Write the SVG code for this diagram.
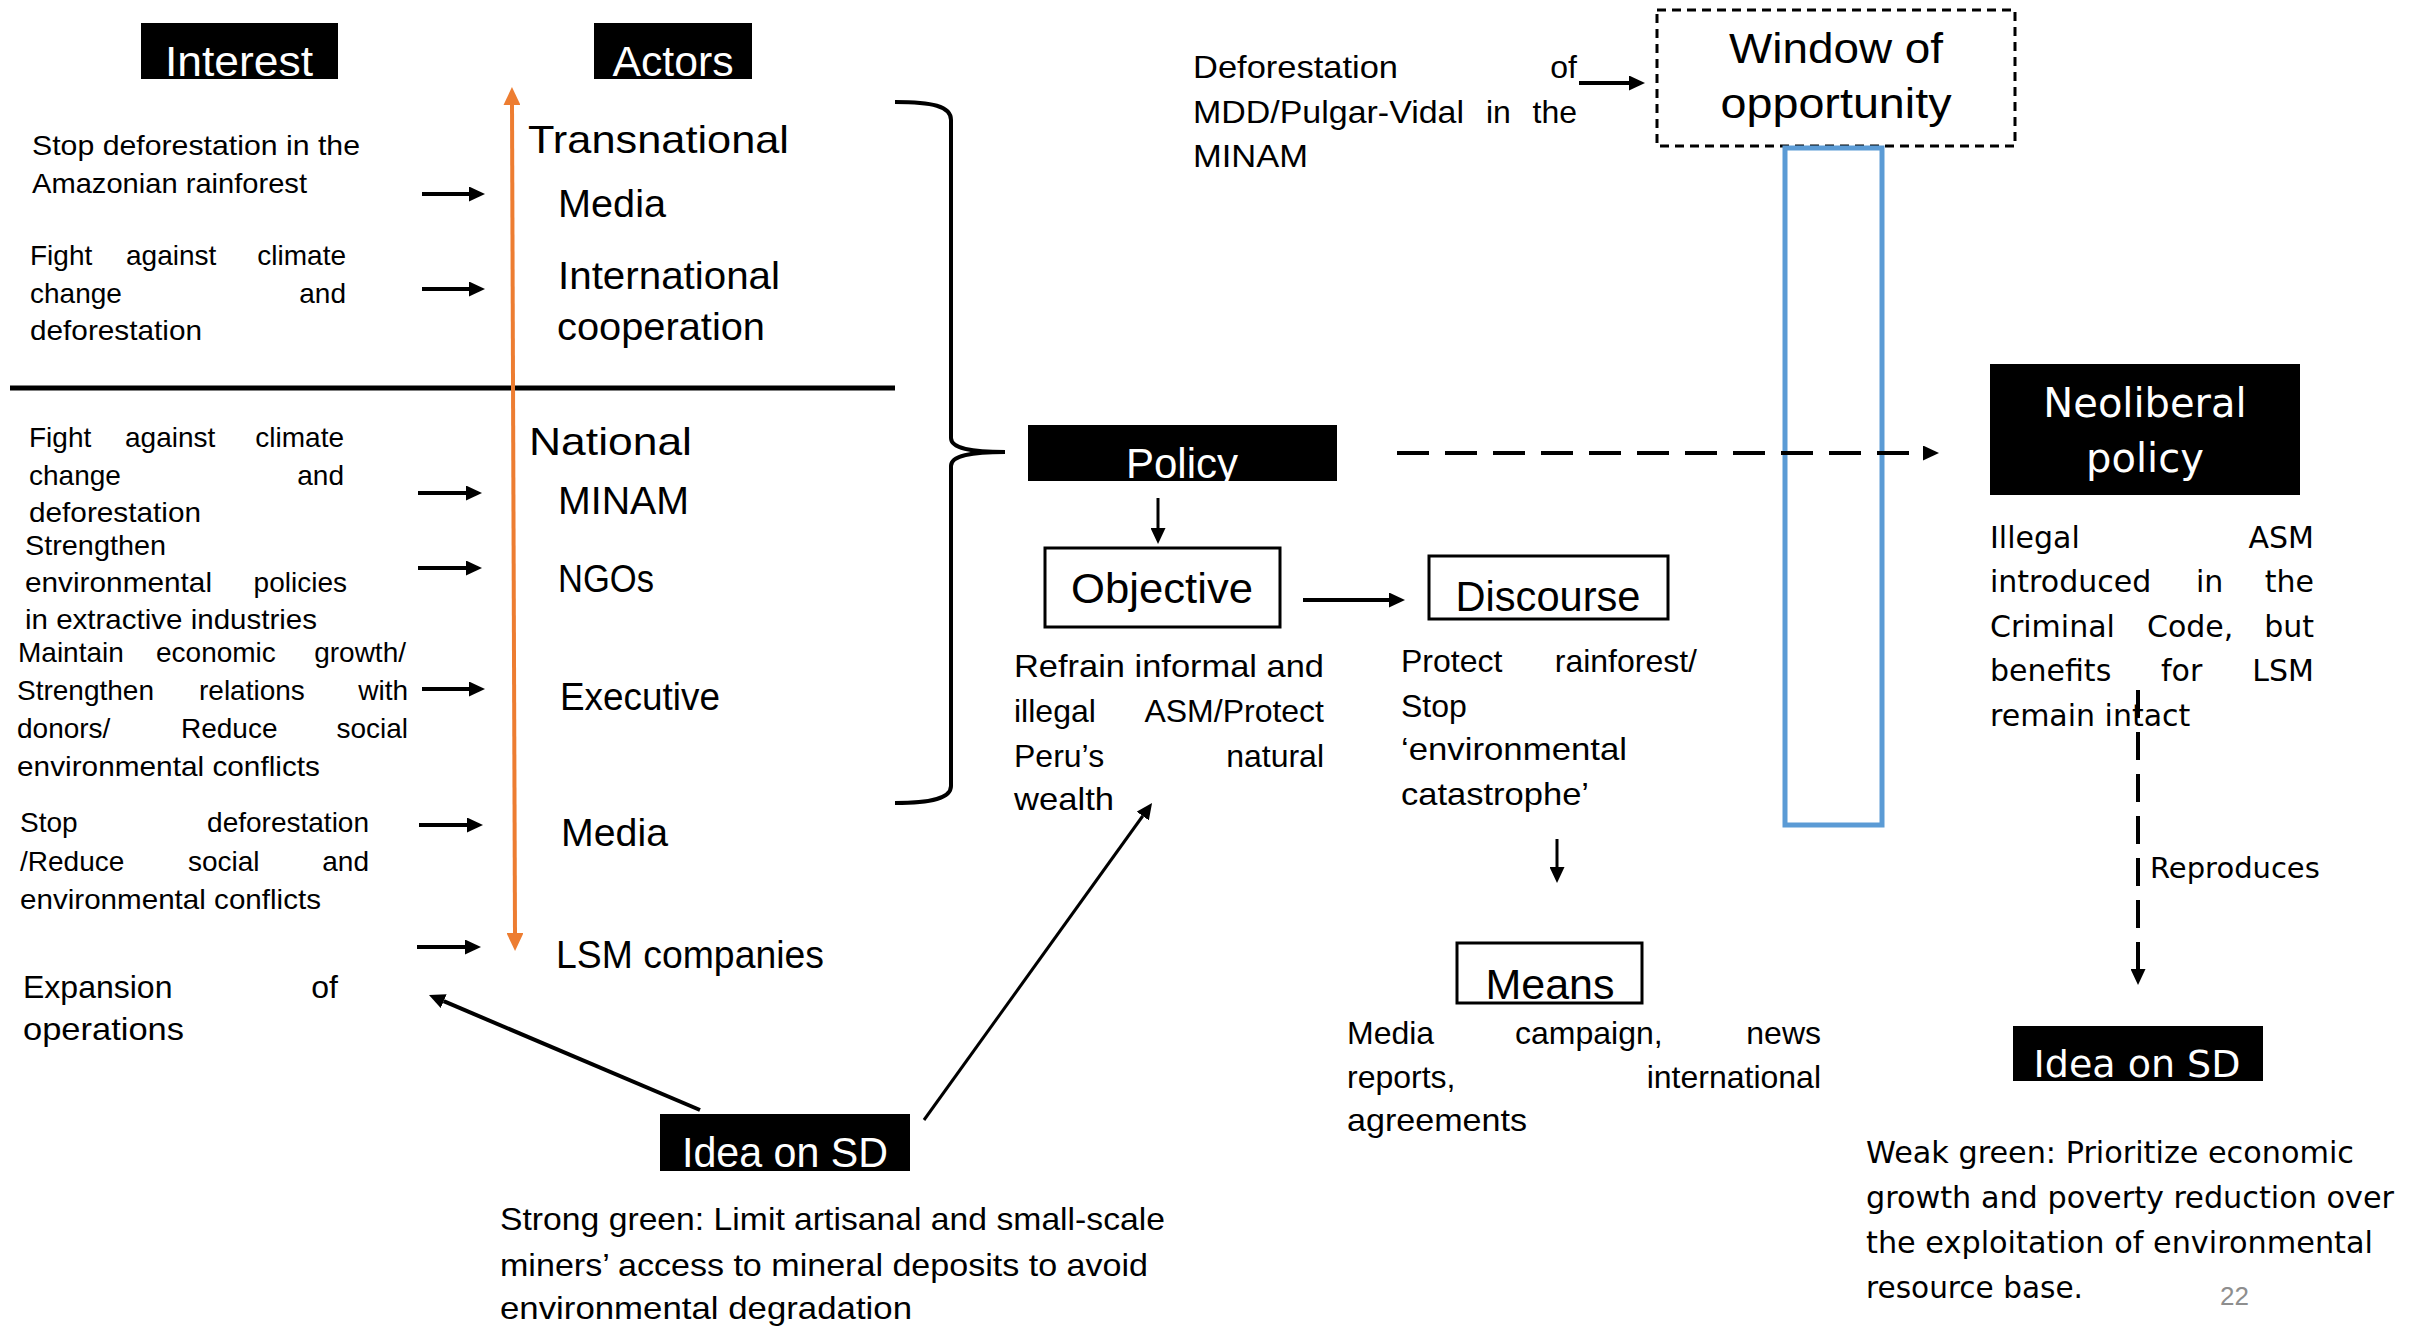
<svg xmlns="http://www.w3.org/2000/svg" width="2412" height="1327" viewBox="0 0 2412 1327">
<style>
text{font-family:"Liberation Sans",Arial,sans-serif;fill:#000}
.s{font-size:28px}
.m{font-size:32px}
.l{font-size:39px}
.h{font-size:42px;fill:#fff;text-anchor:middle}
.t{font-size:42px;text-anchor:middle}
.v{font-family:"DejaVu Sans",Verdana,sans-serif}
.e{text-anchor:end}
.blk{fill:#000}
.box{fill:#fff;stroke:#000;stroke-width:3}
.c{fill:none;stroke:#000;stroke-width:4}
.c3{fill:none;stroke:#000;stroke-width:3}
.dash{fill:none;stroke:#000;stroke-width:4;stroke-dasharray:32 16}
.vdash{fill:none;stroke:#000;stroke-width:4;stroke-dasharray:28 14}
</style>
<defs>
<marker id="a" viewBox="0 0 10 10" refX="0" refY="5" markerWidth="16" markerHeight="15" markerUnits="userSpaceOnUse" orient="auto" preserveAspectRatio="none"><path d="M0,0 L10,5 L0,10 z" fill="#000"/></marker>
<marker id="ao" viewBox="0 0 10 10" refX="0" refY="5" markerWidth="18" markerHeight="17" markerUnits="userSpaceOnUse" orient="auto-start-reverse" preserveAspectRatio="none"><path d="M0,0 L10,5 L0,10 z" fill="#ED7D31"/></marker>
</defs>

<rect width="2412" height="1327" fill="#fff"/>

<g id="interest-header"><rect class="blk" x="141" y="23" width="197" height="56"/><text class="h" x="239" y="76" textLength="148" lengthAdjust="spacingAndGlyphs">Interest</text></g>
<g id="actors-header"><rect class="blk" x="594" y="23" width="158" height="56"/><text class="h" x="673" y="76" textLength="121" lengthAdjust="spacingAndGlyphs">Actors</text></g>

<g id="divider"><line x1="10" y1="388" x2="895" y2="388" stroke="#000" stroke-width="5"/></g>

<g id="interests">
<text class="s" x="32" y="155" textLength="328" lengthAdjust="spacingAndGlyphs">Stop deforestation in the</text>
<text class="s" x="32" y="193" textLength="275" lengthAdjust="spacingAndGlyphs">Amazonian rainforest</text>
<text class="s" x="30" y="265">Fight</text><text class="s" x="126" y="265">against</text><text class="s e" x="346" y="265">climate</text>
<text class="s" x="30" y="303">change</text><text class="s e" x="346" y="303">and</text>
<text class="s" x="30" y="340" textLength="172" lengthAdjust="spacingAndGlyphs">deforestation</text>
<text class="s" x="29" y="447">Fight</text><text class="s" x="125" y="447">against</text><text class="s e" x="344" y="447">climate</text>
<text class="s" x="29" y="485">change</text><text class="s e" x="344" y="485">and</text>
<text class="s" x="29" y="522" textLength="172" lengthAdjust="spacingAndGlyphs">deforestation</text>
<text class="s" x="25" y="555" textLength="141" lengthAdjust="spacingAndGlyphs">Strengthen</text>
<text class="s" x="25" y="592" textLength="187" lengthAdjust="spacingAndGlyphs">environmental</text><text class="s e" x="347" y="592">policies</text>
<text class="s" x="25" y="629" textLength="292" lengthAdjust="spacingAndGlyphs">in extractive industries</text>
<text class="s" x="18" y="662">Maintain</text><text class="s" x="156" y="662">economic</text><text class="s e" x="406" y="662">growth/</text>
<text class="s" x="17" y="700">Strengthen</text><text class="s" x="199" y="700">relations</text><text class="s e" x="408" y="700">with</text>
<text class="s" x="17" y="738">donors/</text><text class="s" x="181" y="738">Reduce</text><text class="s e" x="408" y="738">social</text>
<text class="s" x="17" y="776" textLength="303" lengthAdjust="spacingAndGlyphs">environmental conflicts</text>
<text class="s" x="20" y="832">Stop</text><text class="s e" x="369" y="832">deforestation</text>
<text class="s" x="20" y="871">/Reduce</text><text class="s" x="188" y="871">social</text><text class="s e" x="369" y="871">and</text>
<text class="s" x="20" y="909" textLength="301" lengthAdjust="spacingAndGlyphs">environmental conflicts</text>
<text class="m" x="23" y="998">Expansion</text><text class="m e" x="338" y="998">of</text>
<text class="m" x="23" y="1040" textLength="161" lengthAdjust="spacingAndGlyphs">operations</text>
</g>

<g id="actors">
<text class="l" x="528" y="153" textLength="261" lengthAdjust="spacingAndGlyphs">Transnational</text>
<text class="l" x="558" y="217" textLength="108" lengthAdjust="spacingAndGlyphs">Media</text>
<text class="l" x="558" y="289" textLength="222" lengthAdjust="spacingAndGlyphs">International</text>
<text class="l" x="557" y="340" textLength="208" lengthAdjust="spacingAndGlyphs">cooperation</text>
<text class="l" x="529" y="455" textLength="163" lengthAdjust="spacingAndGlyphs">National</text>
<text class="l" x="558" y="514" textLength="131" lengthAdjust="spacingAndGlyphs">MINAM</text>
<text class="l" x="558" y="592" textLength="96" lengthAdjust="spacingAndGlyphs">NGOs</text>
<text class="l" x="560" y="710" textLength="160" lengthAdjust="spacingAndGlyphs">Executive</text>
<text class="l" x="561" y="846" textLength="107" lengthAdjust="spacingAndGlyphs">Media</text>
<text class="l" x="556" y="968" textLength="268" lengthAdjust="spacingAndGlyphs">LSM companies</text>
</g>

<g id="brace"><path class="c" d="M895,102 C932,102 951,106 951,120 L951,438 C951,448 970,452 1005,452 C970,452 951,456 951,466 L951,786 C951,798 932,803 895,803"/></g>

<g id="policy"><rect class="blk" x="1028" y="425" width="309" height="56"/><text class="h" x="1182" y="478" textLength="112" lengthAdjust="spacingAndGlyphs">Policy</text></g>

<g id="objective"><rect class="box" x="1045" y="548" width="235" height="79"/><text class="t" x="1162" y="603" textLength="182" lengthAdjust="spacingAndGlyphs">Objective</text>
<text class="m" x="1014" y="677" textLength="310" lengthAdjust="spacingAndGlyphs">Refrain informal and</text>
<text class="m" x="1014" y="722">illegal</text><text class="m e" x="1324" y="722">ASM/Protect</text>
<text class="m" x="1014" y="767">Peru’s</text><text class="m e" x="1324" y="767">natural</text>
<text class="m" x="1014" y="810" textLength="100" lengthAdjust="spacingAndGlyphs">wealth</text></g>

<g id="discourse"><rect class="box" x="1429" y="556" width="239" height="63"/><text class="t" x="1548" y="611" textLength="185" lengthAdjust="spacingAndGlyphs">Discourse</text>
<text class="m" x="1401" y="672">Protect</text><text class="m e" x="1697" y="672">rainforest/</text>
<text class="m" x="1401" y="717">Stop</text>
<text class="m" x="1401" y="760" textLength="226" lengthAdjust="spacingAndGlyphs">‘environmental</text>
<text class="m" x="1401" y="805" textLength="188" lengthAdjust="spacingAndGlyphs">catastrophe’</text></g>

<g id="means"><rect class="box" x="1457" y="943" width="185" height="60"/><text class="t" x="1550" y="999" textLength="129" lengthAdjust="spacingAndGlyphs">Means</text>
<text class="m" x="1347" y="1044">Media</text><text class="m" x="1515" y="1044">campaign,</text><text class="m e" x="1821" y="1044">news</text>
<text class="m" x="1347" y="1088">reports,</text><text class="m e" x="1821" y="1088">international</text>
<text class="m" x="1347" y="1131" textLength="180" lengthAdjust="spacingAndGlyphs">agreements</text></g>

<g id="idea-strong"><rect class="blk" x="660" y="1114" width="250" height="57"/><text class="h" x="785" y="1167" textLength="206" lengthAdjust="spacingAndGlyphs">Idea on SD</text>
<text class="m" x="500" y="1230" textLength="665" lengthAdjust="spacingAndGlyphs">Strong green: Limit artisanal and small-scale</text>
<text class="m" x="500" y="1276" textLength="648" lengthAdjust="spacingAndGlyphs">miners’ access to mineral deposits to avoid</text>
<text class="m" x="500" y="1319" textLength="412" lengthAdjust="spacingAndGlyphs">environmental degradation</text></g>

<g id="deforestation-event">
<text class="m" x="1193" y="78" textLength="205" lengthAdjust="spacingAndGlyphs">Deforestation</text><text class="m e" x="1577" y="78">of</text>
<text class="m" x="1193" y="123" textLength="271" lengthAdjust="spacingAndGlyphs">MDD/Pulgar-Vidal</text><text class="m" x="1486" y="123">in</text><text class="m e" x="1577" y="123">the</text>
<text class="m" x="1193" y="167" textLength="115" lengthAdjust="spacingAndGlyphs">MINAM</text></g>

<g id="window"><rect x="1657" y="10" width="358" height="136" fill="none" stroke="#000" stroke-width="3" stroke-dasharray="9 6"/>
<text class="t" x="1836" y="63" font-size="40" textLength="214" lengthAdjust="spacingAndGlyphs">Window of</text>
<text class="t" x="1836" y="118" font-size="40" textLength="231" lengthAdjust="spacingAndGlyphs">opportunity</text>
<rect x="1785" y="148" width="97" height="677" fill="none" stroke="#5B9BD5" stroke-width="5"/></g>

<g id="neoliberal"><rect class="blk" x="1990" y="364" width="310" height="131"/>
<text class="v" x="2145" y="417" font-size="40" text-anchor="middle" style="fill:#fff">Neoliberal</text>
<text class="v" x="2145" y="472" font-size="40" text-anchor="middle" style="fill:#fff">policy</text>
<g font-size="30">
<text class="v" x="1990" y="548">Illegal</text><text class="v e" x="2314" y="548">ASM</text>
<text class="v" x="1990" y="592">introduced</text><text class="v" x="2196" y="592">in</text><text class="v e" x="2314" y="592">the</text>
<text class="v" x="1990" y="637">Criminal</text><text class="v" x="2147" y="637">Code,</text><text class="v e" x="2314" y="637">but</text>
<text class="v" x="1990" y="681">benefits</text><text class="v" x="2161" y="681">for</text><text class="v e" x="2314" y="681">LSM</text>
<text class="v" x="1990" y="726">remain intact</text></g></g>

<g id="idea-weak"><rect class="blk" x="2013" y="1026" width="250" height="55"/>
<text class="v" x="2137" y="1077" font-size="38" text-anchor="middle" style="fill:#fff">Idea on SD</text>
<g font-size="30">
<text class="v" x="1866" y="1163" textLength="488" lengthAdjust="spacingAndGlyphs">Weak green: Prioritize economic</text>
<text class="v" x="1866" y="1208" textLength="528" lengthAdjust="spacingAndGlyphs">growth and poverty reduction over</text>
<text class="v" x="1866" y="1253" textLength="507" lengthAdjust="spacingAndGlyphs">the exploitation of environmental</text>
<text class="v" x="1866" y="1298" textLength="217" lengthAdjust="spacingAndGlyphs">resource base.</text></g></g>

<g id="connectors">
<line x1="512" y1="105" x2="515" y2="933" stroke="#ED7D31" stroke-width="4" marker-start="url(#ao)" marker-end="url(#ao)"/>
<line class="c" x1="422" y1="194" x2="469" y2="194" marker-end="url(#a)"/>
<line class="c" x1="422" y1="289" x2="469" y2="289" marker-end="url(#a)"/>
<line class="c" x1="418" y1="493" x2="466" y2="493" marker-end="url(#a)"/>
<line class="c" x1="418" y1="568" x2="466" y2="568" marker-end="url(#a)"/>
<line class="c" x1="422" y1="689" x2="469" y2="689" marker-end="url(#a)"/>
<line class="c" x1="419" y1="825" x2="467" y2="825" marker-end="url(#a)"/>
<line class="c" x1="417" y1="947" x2="465" y2="947" marker-end="url(#a)"/>
<line class="c" x1="1579" y1="83" x2="1629" y2="83" marker-end="url(#a)"/>
<line class="c3" x1="1158" y1="498" x2="1158" y2="528" marker-end="url(#a)"/>
<line class="c" x1="1303" y1="600" x2="1389" y2="600" marker-end="url(#a)"/>
<line class="c3" x1="1557" y1="839" x2="1557" y2="867" marker-end="url(#a)"/>
<line class="c" x1="700" y1="1110" x2="443.7" y2="1001.2" marker-end="url(#a)"/>
<line class="c3" x1="924" y1="1120" x2="1142.7" y2="816" marker-end="url(#a)"/>
<line class="dash" x1="1397" y1="453" x2="1923" y2="453" marker-end="url(#a)"/>
<line class="vdash" x1="2138" y1="690" x2="2138" y2="969" marker-end="url(#a)"/>
</g>

<g id="labels">
<text class="v" x="2150" y="878" font-size="29">Reproduces</text>
<text x="2220" y="1305" font-size="26" style="fill:#8e8e8e">22</text>
</g>
</svg>
